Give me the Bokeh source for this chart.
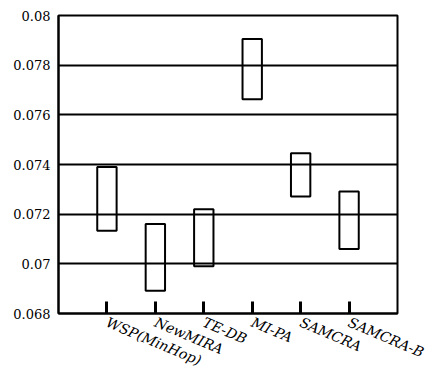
from bokeh.plotting import figure
from bokeh.models import FixedTicker, Range1d
from bokeh.embed import file_html
from bokeh.resources import INLINE

# Algorithms and their value ranges (low / high end of each box)
algorithms = ["WSP(MinHop)", "NewMIRA", "TE-DB", "MI-PA", "SAMCRA", "SAMCRA-B"]
low_values = [0.07133, 0.06892, 0.0699, 0.07663, 0.07271, 0.0706]
high_values = [0.0739, 0.0716, 0.0722, 0.07905, 0.07445, 0.07291]

y_ticks = [0.068, 0.07, 0.072, 0.074, 0.076, 0.078, 0.08]
y_tick_labels = ["0.068", "0.07", "0.072", "0.074", "0.076", "0.078", "0.08"]

positions = list(range(1, len(algorithms) + 1))
y_min, y_max = y_ticks[0], y_ticks[-1]

p = figure(
    width=438, height=378,
    output_backend="svg", toolbar_location=None,
    x_range=Range1d(0, len(algorithms) + 1),
    y_range=Range1d(y_min, y_max),
    min_border_left=58, min_border_right=41,
    min_border_top=15, min_border_bottom=64,
)
p.background_fill_color = "white"
p.border_fill_color = "white"
p.outline_line_color = "black"
p.outline_line_width = 2

# boxes
p.vbar(x=positions, width=0.4, bottom=low_values, top=high_values,
       fill_color=None, line_color="black", line_width=2)

# grid: horizontal only
p.xgrid.visible = False
p.ygrid.ticker = FixedTicker(ticks=y_ticks)
p.ygrid.grid_line_color = "black"
p.ygrid.grid_line_width = 2
p.ygrid.grid_line_alpha = 1.0

label_font = "DejaVu Serif"

# y axis
p.yaxis.ticker = FixedTicker(ticks=y_ticks)
p.yaxis.major_label_overrides = dict(zip(y_ticks, y_tick_labels))
p.yaxis.major_tick_in = 0
p.yaxis.major_tick_out = 0
p.yaxis.minor_tick_line_color = None
p.yaxis.axis_line_width = 2
p.yaxis.axis_line_color = "black"
p.yaxis.major_label_text_font = label_font
p.yaxis.major_label_text_font_size = "13px"
p.yaxis.major_label_text_color = "black"
p.yaxis.major_label_standoff = 8

# x axis: inward ticks, slanted algorithm names
p.xaxis.ticker = FixedTicker(ticks=positions)
p.xaxis.major_label_overrides = dict(zip(positions, algorithms))
p.xaxis.major_tick_in = 12
p.xaxis.major_tick_out = 0
p.xaxis.major_tick_line_width = 3
p.xaxis.minor_tick_line_color = None
p.xaxis.axis_line_width = 2
p.xaxis.axis_line_color = "black"
p.xaxis.major_label_orientation = -0.4
p.xaxis.major_label_text_font = label_font
p.xaxis.major_label_text_font_style = "italic"
p.xaxis.major_label_text_font_size = "14px"
p.xaxis.major_label_text_color = "black"
p.xaxis.major_label_standoff = 8

open("out.html", "w").write(file_html(p, INLINE))
